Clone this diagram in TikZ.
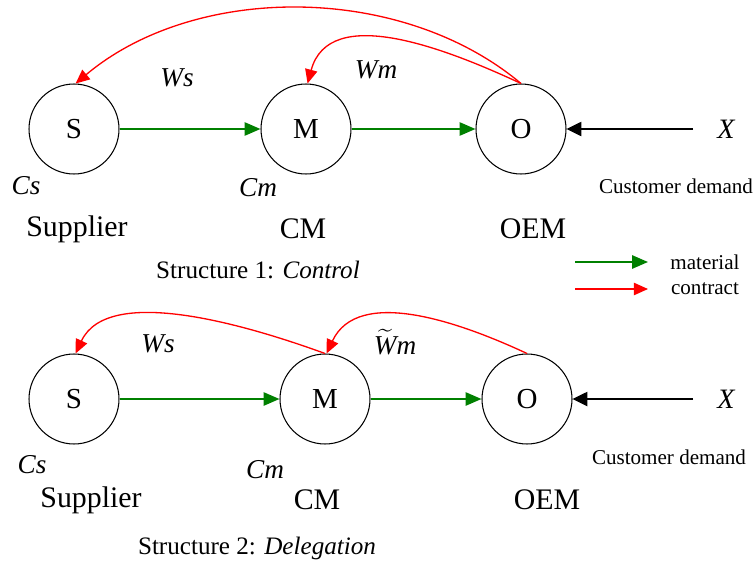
\documentclass[tikz,border=0pt]{standalone}
\usepackage{fontspec}
\setmainfont{Liberation Serif}[ItalicFont={Liberation Serif Italic},BoldFont={Liberation Serif Bold}]
\usepackage{amsmath}
\usepackage{xcolor}
\usetikzlibrary{arrows.meta}

\definecolor{matgreen}{RGB}{0,128,0}
\definecolor{conred}{RGB}{255,0,0}

\begin{document}
\begin{tikzpicture}[x=0.02cm,y=-0.02cm,
    main node/.style={circle,draw,line width=0.6pt,minimum size=1.8cm,inner sep=0pt,font=\fontsize{16.5}{18}\selectfont},
    firm label/.style={font=\fontsize{17}{20}\selectfont},
    cost label/.style={font=\fontsize{15.5}{18}\selectfont\itshape},
    small label/.style={font=\fontsize{12}{14}\selectfont},
    title label/.style={font=\fontsize{14.3}{17}\selectfont},
    material/.style={color=matgreen,line width=1.1pt,-{Triangle[length=9pt,width=7.5pt]}},
    contract/.style={color=conred,line width=0.75pt,-{Triangle[length=8pt,width=7pt]}},
    demand/.style={color=black,line width=1.3pt,-{Triangle[length=8.5pt,width=8pt]}}]

\useasboundingbox (0,0) rectangle (754,561);

% structure 1
\node[main node] (S1) at (74,129) {S};
\node[main node] (M1) at (306,129) {M};
\node[main node] (O1) at (521,129) {O};

\node[firm label] (sup1) at (77,229) {Supplier};
\node[firm label] (cm1) at (303,229) {CM};
\node[firm label] (oem1) at (533,229) {OEM};

\node[cost label] (Cs1) at (26,186) {Cs};
\node[cost label] (Cm1) at (258,188) {Cm};
\node[cost label] (Ws1) at (177,78) {Ws};
\node[cost label] (Wm1) at (376,70) {Wm};

\node[cost label,font=\fontsize{16}{18}\selectfont\itshape] (X1) at (726,129) {X};
\node[small label] (cd1) at (676,186) {Customer demand};
\coordinate (d1) at (693,129);

\draw[material] (S1) -- (M1);
\draw[material] (M1) -- (O1);
\draw[demand] (d1) -- (O1);
\draw[contract] (O1.north) to[out=140,in=40,looseness=0.9] (S1.88);
\draw[contract] (O1.north) to[out=155,in=75] (M1.88);

\node[title label] (t1) at (258,270) {Structure 1: \textit{Control}};

% legend
\coordinate (ma) at (575,262);
\coordinate (mb) at (648,262);
\coordinate (ca) at (575,289);
\coordinate (cb) at (648,289);
\draw[material] (ma) -- (mb);
\draw[contract] (ca) -- (cb);
\node[small label] (mat) at (705,262) {material};
\node[small label] (con) at (705,289) {contract};

% structure 2
\node[main node] (S2) at (74,399) {S};
\node[main node] (M2) at (325,399) {M};
\node[main node] (O2) at (527,399) {O};

\node[firm label] (sup2) at (91,500) {Supplier};
\node[firm label] (cm2) at (317,500) {CM};
\node[firm label] (oem2) at (547,500) {OEM};

\node[cost label] (Cs2) at (32,465) {Cs};
\node[cost label] (Cm2) at (265,470) {Cm};
\node[cost label] (Ws2) at (158,344) {Ws};
\node[cost label,inner sep=1pt] (Wm2) at (395,342) {$\widetilde{\mbox{\itshape W}}$m};

\node[cost label,font=\fontsize{16}{18}\selectfont\itshape] (X2) at (726,399) {X};
\node[small label] (cd2) at (669,457) {Customer demand};
\coordinate (d2) at (693,399);

\draw[material] (S2) -- (M2);
\draw[material] (M2) -- (O2);
\draw[demand] (d2) -- (O2);
\draw[contract] (M2.north) to[out=160,in=65,looseness=0.8] (S2.88);
\draw[contract] (O2.north) to[out=155,in=65,looseness=0.95] (M2.88);

\node[title label] (t2) at (257,548) {Structure 2: \textit{Delegation}};

\end{tikzpicture}
\end{document}
